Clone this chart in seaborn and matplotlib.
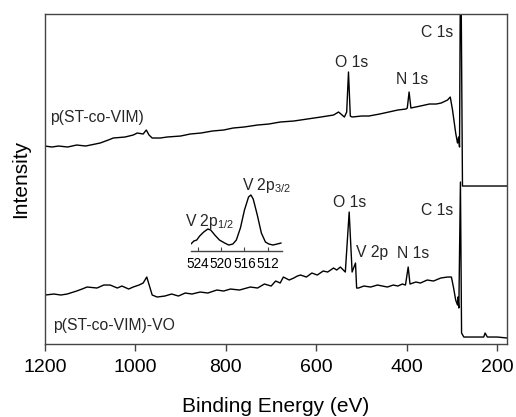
import matplotlib
matplotlib.use("Agg")
import matplotlib.pyplot as plt
import seaborn as sns
import pandas as pd

# Survey spectrum of p(ST-co-VIM): binding energy (eV) and intensity (a.u.)
e_top = [1200, 1185, 1170, 1150, 1130, 1110, 1078, 1060, 1049, 1023, 1005, 996,
         983, 976, 970, 963, 945, 930, 900, 879, 855, 830, 805, 784, 760, 730,
         705, 680, 650, 620, 590, 562, 551, 538, 533, 529, 525, 521, 500, 484,
         460, 440, 420, 402, 399, 395, 391, 370, 350, 335, 324, 310, 304, 299,
         292, 288, 285.5, 283.5, 281, 277, 260, 230, 200, 178]
i_top = [198, 197, 198, 197, 199, 198, 201, 204, 206, 207, 209, 211,
         210, 214, 209, 206, 206, 207, 208, 210, 211, 213, 214, 216, 217, 219,
         220, 222, 223, 225, 227, 229, 232, 227, 232, 272, 228, 227, 228, 228,
         230, 232, 234, 235, 236, 252, 236, 238, 240, 240, 241, 244, 247, 234,
         211, 201, 207, 197, 420, 158, 158, 158, 158, 158]

# Survey spectrum of p(ST-co-VIM)-VO
e_bot = [1200, 1180, 1165, 1151, 1130, 1118, 1107, 1085, 1070, 1056, 1040, 1030,
         1015, 1005, 992, 983, 975, 963, 952, 935, 920, 905, 890, 875, 857, 840,
         820, 805, 790, 770, 746, 730, 715, 700, 690, 680, 673, 660, 650, 642,
         635, 622, 610, 598, 585, 575, 562, 555, 547, 536, 527.5, 521, 513.5,
         511, 507, 495, 480, 465, 443, 430, 420, 410, 403, 397, 393, 380, 370,
         355, 341, 325, 310, 301.5, 297, 292, 288, 287, 285, 281.5, 279, 274,
         250, 230, 227, 222, 200, 178]
i_bot = [49, 50, 49, 50, 53, 55, 57, 56, 59, 59, 56, 58,
         55, 57, 59, 61, 67, 49, 47, 48, 50, 48, 51, 50, 52, 51,
         54, 53, 55, 54, 57, 56, 60, 58, 63, 61, 67, 64, 66, 68,
         69, 67, 71, 69, 73, 72, 76, 74, 77, 72, 132, 72, 81,
         56, 56, 58, 57, 59, 57, 59, 58, 60, 59, 77, 60, 62, 61,
         64, 63, 66, 67, 67, 57, 44, 39, 47, 36, 162, 11, 7,
         7, 7, 11, 7, 7, 6]

# High-resolution V 2p region (inset)
e_v2p = [525.2, 524.7, 524.2, 523.7, 523.0, 522.3, 521.8, 521.1, 520.3, 519.4,
         518.7, 518.0, 517.4, 516.7, 516.0, 515.3, 514.9, 514.5, 513.8, 513.1,
         512.4, 511.8, 511.1, 510.4, 509.7]
i_v2p = [7, 10, 11, 15, 19, 22, 21, 16, 11, 8,
         6, 7, 11, 23, 41, 54, 56, 52, 36, 18,
         9, 7, 6, 7, 8]
v2p_ticks = [524, 520, 516, 512]

sns.set_theme(style="ticks")
plt.rcParams["font.family"] = ["Liberation Sans", "DejaVu Sans"]
plt.rcParams["mathtext.fontset"] = "custom"
plt.rcParams["mathtext.rm"] = "Liberation Sans"
plt.rcParams["mathtext.it"] = "Liberation Sans"

spine_col = "#444444"
fig = plt.figure(figsize=(5.16, 4.17), dpi=100)
ax = fig.add_axes([0.0872, 0.175, 0.8954, 0.7914])

df_top = pd.DataFrame({"E": e_top, "I": i_top})
df_bot = pd.DataFrame({"E": e_bot, "I": i_bot})
sns.lineplot(data=df_top, x="E", y="I", sort=False, estimator=None,
             color="black", linewidth=1.0, ax=ax)
sns.lineplot(data=df_bot, x="E", y="I", sort=False, estimator=None,
             color="black", linewidth=1.0, ax=ax)

ax.set_xlim(1200, 178.5)
ax.set_ylim(0, 330)
ax.set_xticks([1200, 1000, 800, 600, 400, 200])
ax.set_yticks([])
ax.tick_params(axis="x", direction="out", length=5, width=1, color=spine_col,
               labelsize=14, pad=6, labelcolor="black")
for s in ax.spines.values():
    s.set_visible(True)
    s.set_color(spine_col)
    s.set_linewidth(1.0)
ax.set_xlabel("Binding Energy (eV)", fontsize=15, labelpad=15, color="black")
ax.set_ylabel("Intensity", fontsize=15, labelpad=11, color="black")

fs = 11.3
ax.text(1189, 227, "p(ST-co-VIM)", fontsize=fs, ha="left", va="center")
ax.text(521, 282, "O 1s", fontsize=fs, ha="center", va="center")
ax.text(388, 265, "N 1s", fontsize=fs, ha="center", va="center")
ax.text(333, 312, "C 1s", fontsize=fs, ha="center", va="center")
ax.text(527, 142, "O 1s", fontsize=fs, ha="center", va="center")
ax.text(332.5, 134, "C 1s", fontsize=fs, ha="center", va="center")
ax.text(476, 92, "V 2p", fontsize=fs, ha="center", va="center")
ax.text(385, 91, "N 1s", fontsize=fs, ha="center", va="center")
ax.text(1182, 19, "p(ST-co-VIM)-VO", fontsize=fs, ha="left", va="center")
ax.text(710, 154.5, r"V 2p$_{3/2}$", fontsize=fs, ha="center", va="baseline")
ax.text(837, 118, r"V 2p$_{1/2}$", fontsize=fs, ha="center", va="baseline")

# Inset: V 2p core level
axi = fig.add_axes([0.370, 0.398, 0.176, 0.144])
df_v = pd.DataFrame({"E": e_v2p, "I": i_v2p})
sns.lineplot(data=df_v, x="E", y="I", sort=False, estimator=None,
             color="black", linewidth=1.0, ax=axi)
axi.set_xlim(525.2, 509.6)
axi.set_ylim(0, 60)
axi.set_xticks(v2p_ticks)
axi.set_yticks([])
axi.set_xlabel("")
axi.set_ylabel("")
axi.patch.set_alpha(0)
for side in ["left", "right", "top"]:
    axi.spines[side].set_visible(False)
axi.spines["bottom"].set_color(spine_col)
axi.spines["bottom"].set_linewidth(1.0)
axi.tick_params(axis="x", direction="in", length=3, width=0.8, color=spine_col,
                labelsize=9.8, pad=4, labelcolor="black")

fig.savefig("out.png", dpi=100)
